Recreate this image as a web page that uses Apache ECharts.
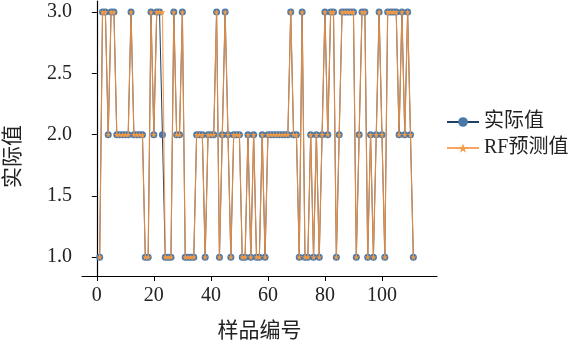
<!DOCTYPE html>
<html>
<head>
<meta charset="utf-8">
<script src="https://cdn.jsdelivr.net/npm/echarts@6/dist/echarts.min.js"></script>
<style>html,body{margin:0;padding:0;background:#fff}#c{width:575px;height:349px}</style>
</head>
<body>
<div id="c"></div>
<script>
// Predicted (RF) class per sample, samples numbered from 1
const predicted = [
  1,3,3,2,3,3,2,2,2,2,
  2,3,2,2,2,2,1,1,3,2,
  3,3,3,1,1,1,3,2,2,3,
  1,1,1,1,2,2,2,1,2,2,
  2,3,1,2,3,2,1,2,2,2,
  1,1,2,1,2,1,1,2,1,2,
  2,2,2,2,2,2,2,3,2,2,
  1,3,1,1,2,1,2,1,2,3,
  2,3,3,1,2,3,3,3,3,3,
  1,2,3,3,1,2,1,2,3,2,
  1,3,3,3,3,2,3,2,3,2,
  1
];
// Actual class per sample
const actual = [
  1,3,3,2,3,3,2,2,2,2,
  2,3,2,2,2,2,1,1,3,2,
  3,3,2,1,1,1,3,2,2,3,
  1,1,1,1,2,2,2,1,2,2,
  2,3,1,2,3,2,1,2,2,2,
  1,1,2,1,2,1,1,2,1,2,
  2,2,2,2,2,2,2,3,2,2,
  1,3,1,1,2,1,2,1,2,3,
  2,3,3,1,2,3,3,3,3,3,
  1,2,3,3,1,2,1,2,3,2,
  1,3,3,3,3,2,3,2,3,2,
  1
];
const xTicks = [0, 20, 40, 60, 80, 100];
const yTicks = [1.0, 1.5, 2.0, 2.5, 3.0];
const seriesNames = ['实际值', 'RF预测值'];
const xTitle = '样品编号';
const yTitle = '实际值';

const sampleNo = actual.map((_, i) => i + 1);
const serif = "'Liberation Serif', 'Noto Sans CJK SC', serif";
const star = 'path://M50,0 L61,35 L98,35 L68,57 L79,91 L50,70 L21,91 L32,57 L2,35 L39,35 Z';

const chart = echarts.init(document.getElementById('c'), null, {renderer: 'canvas'});
chart.setOption({
  animation: false,
  backgroundColor: '#fff',
  grid: {left: 82, right: 138, top: 1, bottom: 73, containLabel: false, outerBoundsMode: 'none'},
  legend: {
    left: 441, top: 107, orient: 'vertical', itemGap: 6,
    itemWidth: 32, itemHeight: 12,
    textStyle: {fontFamily: serif, fontSize: 20, color: '#222'},
    data: seriesNames
  },
  graphic: [{
    type: 'text', left: 3, top: 125, rotation: Math.PI / 2,
    style: {text: yTitle, font: "21px 'Liberation Serif', 'Noto Sans CJK SC', serif", fill: '#222'}
  }],
  xAxis: {
    type: 'value', min: -5.2, max: 119.3,
    name: xTitle, nameLocation: 'middle', nameGap: 45,
    nameTextStyle: {fontFamily: serif, fontSize: 21, color: '#222'},
    axisLine: {show: true, lineStyle: {color: '#000', width: 1.2}},
    axisTick: {show: true, length: 5, customValues: xTicks, lineStyle: {color: '#000'}},
    axisLabel: {customValues: xTicks, margin: 10, fontFamily: serif, fontSize: 20, color: '#222'},
    splitLine: {show: false}
  },
  yAxis: {
    type: 'value', min: 0.847, max: 3.09,
    axisLine: {show: true, lineStyle: {color: '#000', width: 1.2}},
    axisTick: {show: true, length: 5, customValues: yTicks, lineStyle: {color: '#000'}},
    axisLabel: {customValues: yTicks, margin: 10, fontFamily: serif, fontSize: 20, color: '#222',
      formatter: v => Number(v).toFixed(1)},
    splitLine: {show: false}
  },
  series: [
    {
      name: seriesNames[0], type: 'line',
      data: sampleNo.map((x, i) => [x, actual[i]]),
      symbol: 'circle', symbolSize: 7, showAllSymbol: true,
      lineStyle: {color: '#1f3f66', width: 1},
      itemStyle: {color: '#4a78a8', borderWidth: 0},
      z: 2
    },
    {
      name: seriesNames[1], type: 'line',
      data: sampleNo.map((x, i) => [x, predicted[i]]),
      symbol: star, symbolSize: 6, showAllSymbol: true,
      lineStyle: {color: 'rgba(244,150,70,0.85)', width: 1.2},
      itemStyle: {color: '#f39a45', borderWidth: 0},
      z: 3
    }
  ]
});
</script>
</body>
</html>
